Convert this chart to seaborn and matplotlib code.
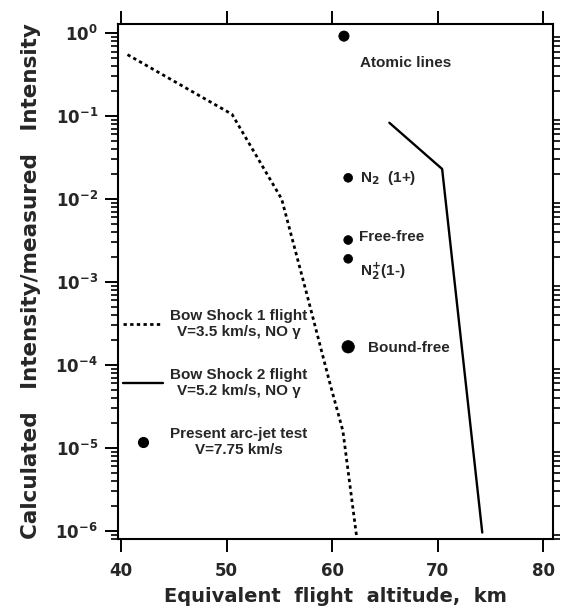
import numpy as np
import pandas as pd
import matplotlib
matplotlib.use("Agg")
import matplotlib.pyplot as plt
from matplotlib.lines import Line2D
from matplotlib.ticker import NullFormatter, NullLocator
import seaborn as sns

# ---- data ----
bs1_alt = [40.6, 50.5, 55.2, 57.6, 59.8, 61.0, 62.3]
bs1_val = [0.55, 0.105, 0.010, 7.0e-4, 5.8e-5, 1.6e-5, 8.5e-7]

bs2_alt = [65.4, 70.4, 74.2]
bs2_val = [0.083, 0.023, 0.95e-6]

pt_names = ["Atomic lines", "N2 (1+)", "Free-free", "N2+ (1-)", "Bound-free"]
pt_alt = [61.1, 61.5, 61.5, 61.5, 61.5]
pt_val = [0.92, 0.018, 0.0032, 0.0019, 1.65e-4]
pt_area = [55, 40, 40, 40, 80]

label_text = ["Atomic lines", r"N$_{2}$  (1+)", "Free-free", r"N$_{2}^{+}$(1-)", "Bound-free"]
label_alt = [62.6, 62.6, 62.5, 62.6, 63.4]
label_val = [0.44, 0.018, 0.0035, 0.00135, 1.6e-4]

legend_labels = ["Bow Shock 1 flight\nV=3.5 km/s, NO \u03b3",
                 "Bow Shock 2 flight\nV=5.2 km/s, NO \u03b3",
                 "Present arc-jet test\nV=7.75 km/s"]

xticks = [40, 50, 60, 70, 80]
yticks = [1e0, 1e-1, 1e-2, 1e-3, 1e-4, 1e-5, 1e-6]
ytick_labels = [r"10$^{0}$", r"10$^{-1}$", r"10$^{-2}$", r"10$^{-3}$",
                r"10$^{-4}$", r"10$^{-5}$", r"10$^{-6}$"]
ytick_minor = [m * 10.0 ** e for e in range(-7, 1) for m in range(2, 10)]

# ---- styling ----
sns.set_theme(style="ticks")
plt.rcParams["font.family"] = ["Liberation Sans", "DejaVu Sans"]
plt.rcParams["font.weight"] = "bold"
plt.rcParams["mathtext.fontset"] = "custom"
plt.rcParams["mathtext.rm"] = "DejaVu Sans:bold"
plt.rcParams["mathtext.it"] = "DejaVu Sans:bold"
plt.rcParams["mathtext.bf"] = "DejaVu Sans:bold"
plt.rcParams["mathtext.default"] = "rm"

fig = plt.figure(figsize=(5.68, 6.11), dpi=100)
ax = fig.add_axes([118 / 568, 1 - 539 / 611, (553 - 118) / 568, (539 - 24) / 611])

bs1 = pd.DataFrame({"alt": bs1_alt, "val": bs1_val})
bs2 = pd.DataFrame({"alt": bs2_alt, "val": bs2_val})
pts = pd.DataFrame({"alt": pt_alt, "val": pt_val, "name": pt_names, "area": pt_area})

sns.lineplot(data=bs1, x="alt", y="val", ax=ax, sort=False, estimator=None,
             color="black", lw=2.0, linestyle=(0, (1.2, 1.2)))
sns.lineplot(data=bs2, x="alt", y="val", ax=ax, sort=False, estimator=None,
             color="black", lw=1.7)
sns.scatterplot(data=pts, x="alt", y="val", ax=ax, size="area",
                sizes={a: a for a in set(pt_area)}, color="black",
                edgecolor="black", legend=False)

for t, xa, yv in zip(label_text, label_alt, label_val):
    ax.text(xa, yv, t, ha="left", va="center", fontsize=11, fontweight="bold",
            family=["Liberation Sans", "DejaVu Sans"])

ax.set_yscale("log")
ax.set_xlim(39.7, 80.9)
ax.set_ylim(10 ** -6.1, 10 ** 0.11)
ax.set_xticks(xticks)
ax.set_xticklabels([str(v) for v in xticks], fontsize=12, fontweight="bold",
                   family="DejaVu Sans")
ax.set_yticks(yticks)
ax.set_yticklabels(ytick_labels, fontsize=12, family="DejaVu Sans")
ax.yaxis.set_minor_locator(NullLocator())

ax.tick_params(axis="both", which="major", direction="out", length=9.5, width=1.4,
               top=True, right=True, labeltop=False, labelright=False, pad=5,
               color="black")
ax.tick_params(axis="x", which="major", pad=7)
for s in ax.spines.values():
    s.set_visible(True)
    s.set_linewidth(1.5)
    s.set_color("black")

ax.set_xlabel("Equivalent  flight  altitude,  km", fontsize=14, fontweight="bold",
              family="DejaVu Sans", labelpad=5)
ax.set_ylabel("Calculated   Intensity/measured   Intensity", fontsize=15.5,
              family="DejaVu Sans", fontweight="bold", labelpad=10)

handles = [Line2D([], [], color="black", lw=2.0, linestyle=(0, (1.2, 1.2))),
           Line2D([], [], color="black", lw=1.7),
           Line2D([], [], color="black", lw=0, marker="o", markersize=7)]
leg = ax.legend(handles, legend_labels, loc="upper left",
                bbox_to_anchor=(-0.01, 0.465), frameon=False, fontsize=11,
                handlelength=2.6, handletextpad=0.5, labelspacing=1.9,
                borderaxespad=0.2)
for txt in leg.get_texts():
    txt.set_multialignment("center")
    txt.set_fontweight("bold")

# minor y ticks drawn on a twin log axis sharing the same range
axm = ax.twinx()
axm.set_yscale("log")
axm.set_ylim(ax.get_ylim())
lo, hi = ax.get_ylim()
axm.set_yticks([v for v in ytick_minor if lo <= v <= hi])
axm.yaxis.set_minor_locator(NullLocator())
axm.yaxis.set_major_formatter(NullFormatter())
axm.tick_params(axis="y", which="major", direction="out", length=5, width=1.2,
                left=True, right=True, labelleft=False, labelright=False,
                color="black")
for s in axm.spines.values():
    s.set_visible(False)

fig.savefig("out.png", dpi=100)
